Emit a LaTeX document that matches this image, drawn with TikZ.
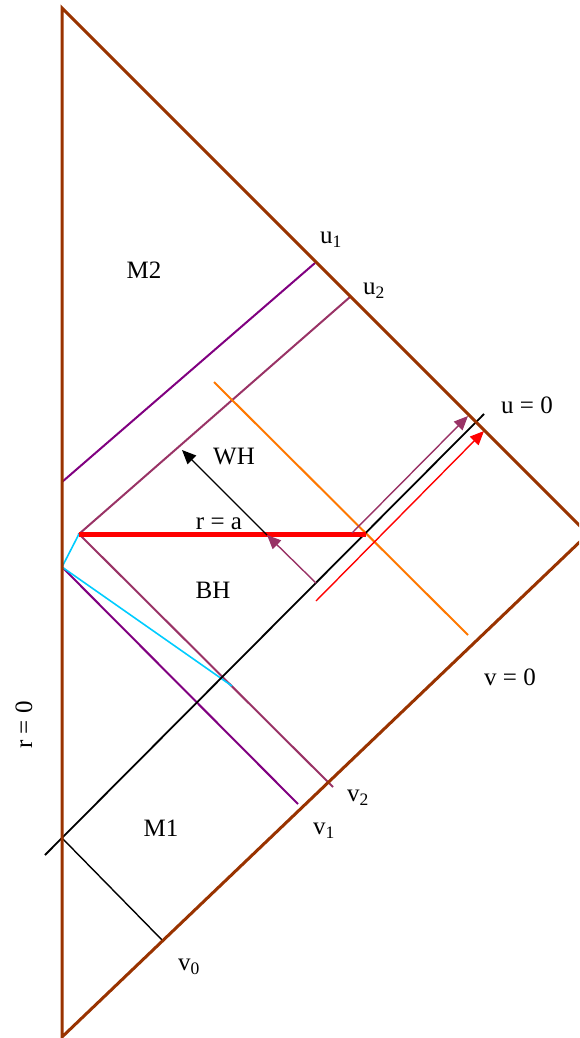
\documentclass[tikz,border=0pt]{standalone}
\usepackage{fontspec}
\setmainfont{Liberation Serif}
\usetikzlibrary{arrows.meta}
\definecolor{brn}{RGB}{153,51,0}
\definecolor{purp}{RGB}{128,0,128}
\definecolor{mauve}{RGB}{153,51,102}
\definecolor{orng}{RGB}{255,120,0}
\definecolor{cyn}{RGB}{0,204,255}
\tikzset{
  edge/.style={brn,line width=3pt,line join=miter},
  purpline/.style={purp,line width=2pt},
  mauveline/.style={mauve,line width=2pt},
  thinarrow/.style={line width=1.4pt,-{Triangle[length=14pt,width=12pt]}},
  lbl/.style={font=\fontsize{25}{29}\selectfont,inner sep=0pt}
}
\begin{document}
\begin{tikzpicture}[x=1pt,y=-1pt]
\useasboundingbox (0,0) rectangle (579,1038);
\clip (0,0) rectangle (579,1038);
% coordinates
\coordinate (T) at (62,8);
\coordinate (B) at (62,1037);
\coordinate (R) at (588,534);
\coordinate (U0a) at (45,855);
\coordinate (U0b) at (484,414);
\coordinate (O) at (62,838);
\coordinate (V0) at (163,941);
\coordinate (P1a) at (62,482);
\coordinate (P1b) at (315,263);
\coordinate (P2a) at (62,567);
\coordinate (P2b) at (298,804);
\coordinate (A) at (79,534);
\coordinate (Q1) at (350,297);
\coordinate (Q2) at (333,787);
\coordinate (Rb) at (366,534);
\coordinate (C) at (232,686);
\coordinate (O1) at (214,382);
\coordinate (O2) at (468,635);
\coordinate (S1) at (316,601);
\coordinate (S2) at (484,431);
\coordinate (M1a) at (352,533);
\coordinate (M1b) at (468,416);
\coordinate (M2a) at (316,583);
\coordinate (M2b) at (267,535);
\coordinate (K) at (182,450);
% lines
\draw[purpline] (P1a) -- (P1b);
\draw[purpline] (P2a) -- (P2b);
\draw[mauveline] (Q1) -- (A) -- (Q2);
\draw[orng,line width=2pt] (O1) -- (O2);
\draw[cyn,line width=1.6pt] (A) -- (P2a) -- (C);
\draw[black,line width=1.8pt] (U0a) -- (U0b);
\draw[black,line width=1.4pt] (O) -- (V0);
\draw[red,line width=5pt] (A) -- (Rb);
\draw[red,thinarrow] (S1) -- (S2);
\draw[mauve,thinarrow] (M1a) -- (M1b);
\draw[black,thinarrow] (M2b) -- (K);
\draw[mauve,thinarrow] (M2a) -- (M2b);
\draw[edge] (B) -- (T) -- (R) -- cycle;
% labels
\node[lbl] (lM2) at (144,270) {M2};
\node[lbl] (lu1) at (331,240) {u\textsubscript{1}};
\node[lbl] (lu2) at (374,291) {u\textsubscript{2}};
\node[lbl] (lu0) at (527,405) {u = 0};
\node[lbl] (lWH) at (234,456) {WH};
\node[lbl] (lra) at (219,524) {r = a};
\node[lbl] (lBH) at (213,590) {BH};
\node[lbl] (lv0eq) at (510,677) {v = 0};
\node[lbl,rotate=90] (lr0) at (24,725) {r = 0};
\node[lbl] (lv2) at (358,798) {v\textsubscript{2}};
\node[lbl] (lv1) at (324,831) {v\textsubscript{1}};
\node[lbl] (lM1) at (161,828) {M1};
\node[lbl] (lv0) at (189,967) {v\textsubscript{0}};
\end{tikzpicture}
\end{document}
